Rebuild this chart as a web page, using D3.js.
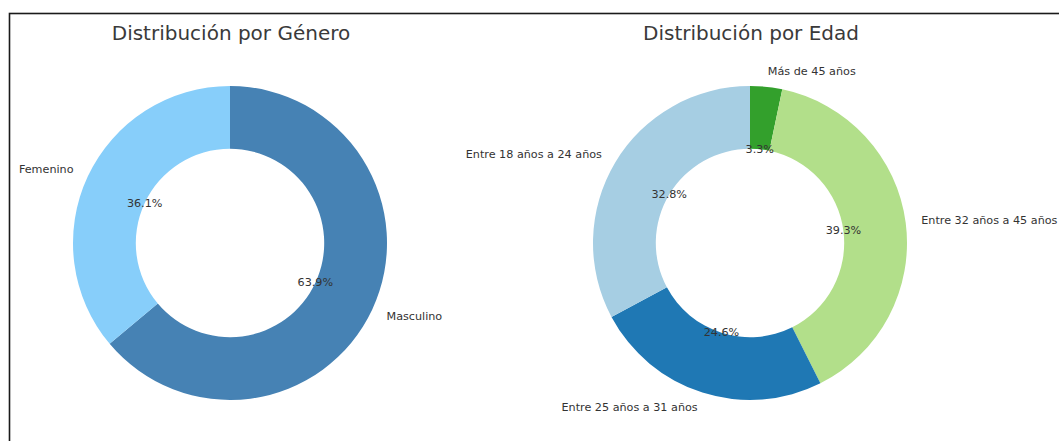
<!DOCTYPE html>
<html>
<head>
<meta charset="utf-8">
<script src="https://cdn.jsdelivr.net/npm/d3@7"></script>
<style>
  html, body { margin: 0; padding: 0; background: #fff; }
  svg { display: block; }
</style>
</head>
<body>
<svg id="chart" width="1059" height="441"></svg>
<script>
// Gender distribution
const genderLabels = ["Masculino", "Femenino"];
const genderValues = [63.9, 36.1];
const genderColors = ["#4682b4", "#87cefa"];

// Age distribution
const ageLabels = ["Más de 45 años", "Entre 32 años a 45 años", "Entre 25 años a 31 años", "Entre 18 años a 24 años"];
const ageValues = [3.3, 39.3, 24.6, 32.8];
const ageColors = ["#33a02c", "#b2df8a", "#1f78b4", "#a6cee3"];

const titles = ["Distribución por Género", "Distribución por Edad"];

const svg = d3.select("#chart");
const W = 1059, H = 441;
svg.append("rect").attr("width", W).attr("height", H).attr("fill", "#fff");

// figure frame (top and left edges visible)
svg.append("rect")
  .attr("x", 9.5).attr("y", 13.5)
  .attr("width", W + 20).attr("height", H + 20)
  .attr("fill", "none").attr("stroke", "#1a1a1a").attr("stroke-width", 1.6);

const font = "'DejaVu Sans', sans-serif";
const R = 157;
const innerFrac = 0.6;

function donut(cx, cy, title, labels, values, colors) {
  const g = svg.append("g").attr("transform", `translate(${cx},${cy})`);
  const data = labels.map((l, i) => ({ label: l, value: values[i], color: colors[i] }));
  // clockwise from 12 o'clock, in the given order
  const pie = d3.pie().value(d => d.value).sort(null);
  const arcs = pie(data);
  const arc = d3.arc().innerRadius(R * innerFrac).outerRadius(R);

  g.selectAll("path.slice").data(arcs).join("path")
    .attr("class", "slice")
    .attr("d", arc)
    .attr("fill", d => d.data.color);

  const mid = d => (d.startAngle + d.endAngle) / 2;

  // category labels just outside the ring
  g.selectAll("text.lab").data(arcs).join("text")
    .attr("class", "lab")
    .attr("x", d => Math.sin(mid(d)) * R * 1.1)
    .attr("y", d => -Math.cos(mid(d)) * R * 1.1)
    .attr("text-anchor", d => Math.sin(mid(d)) >= 0 ? "start" : "end")
    .attr("dominant-baseline", "central")
    .attr("font-family", font).attr("font-size", 11.2)
    .attr("fill", "#333")
    .text(d => d.data.label);

  // percentage labels on the inner edge
  g.selectAll("text.pct").data(arcs).join("text")
    .attr("class", "pct")
    .attr("x", d => Math.sin(mid(d)) * R * 0.6)
    .attr("y", d => -Math.cos(mid(d)) * R * 0.6)
    .attr("text-anchor", "middle")
    .attr("dominant-baseline", "central")
    .attr("font-family", font).attr("font-size", 11.2)
    .attr("fill", "#333")
    .text(d => d3.format(".1f")(d.data.value) + "%");

  svg.append("text")
    .attr("x", cx + 1).attr("y", 40)
    .attr("text-anchor", "middle")
    .attr("font-family", font).attr("font-size", 20)
    .attr("fill", "#3a3a3a")
    .text(title);
}

donut(230, 243, titles[0], genderLabels, genderValues, genderColors);
donut(750, 243, titles[1], ageLabels, ageValues, ageColors);
</script>
</body>
</html>
